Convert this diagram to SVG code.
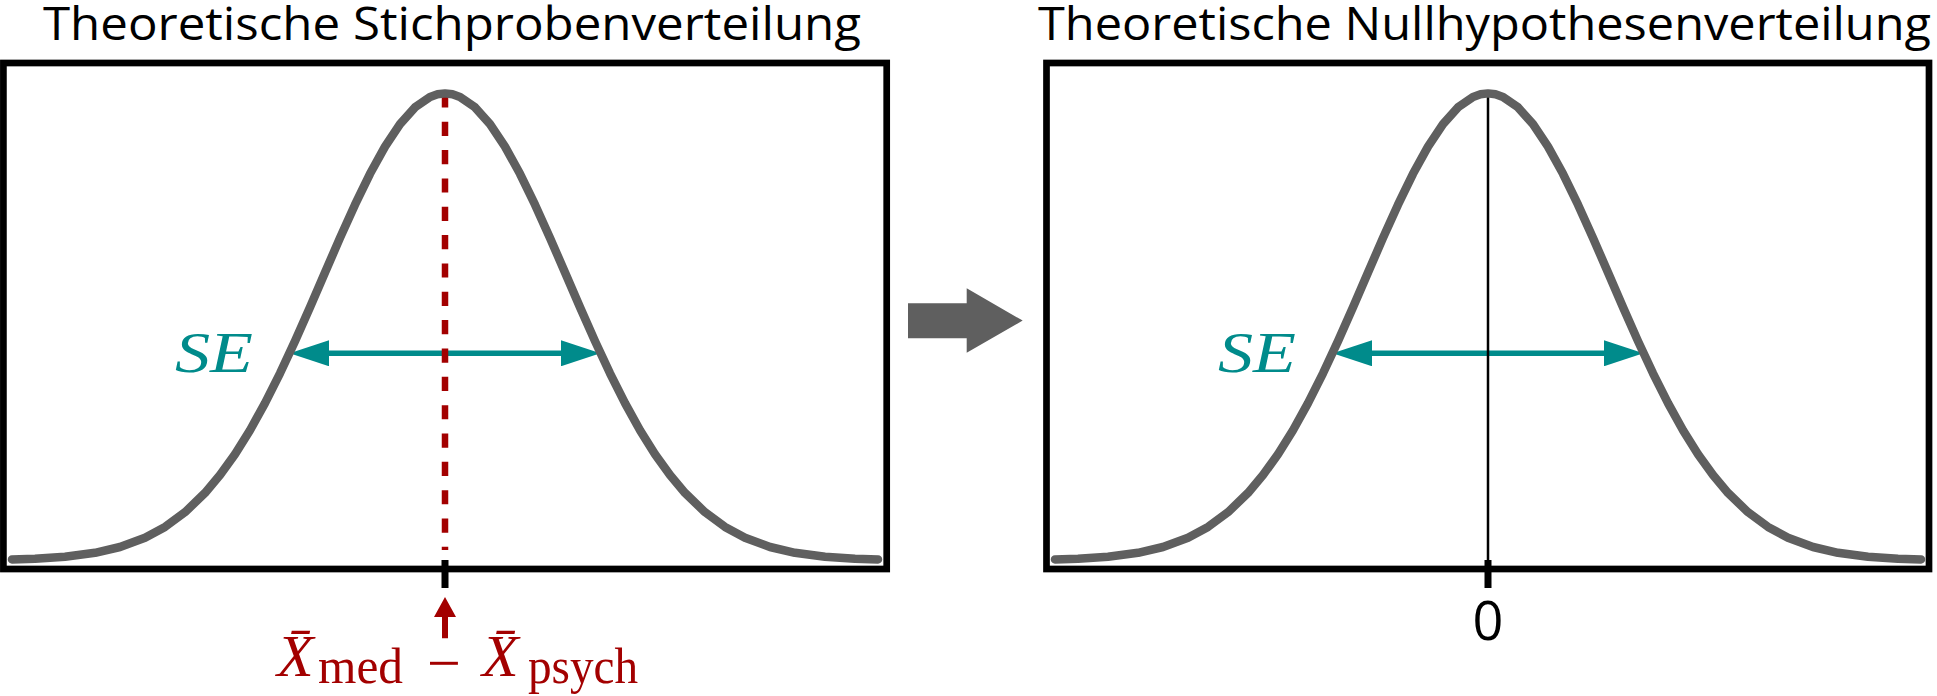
<svg xmlns="http://www.w3.org/2000/svg" xmlns:xlink="http://www.w3.org/1999/xlink" width="1937" height="696" viewBox="0 0 1937 696">
<style>
.title{font-family:"Open Sans","Noto Sans",sans-serif;font-size:46px;fill:#000}
.box{fill:none;stroke:#000;stroke-width:6.7}
.curve{fill:none;stroke:#5f5f5f;stroke-width:8.5;stroke-linecap:round;stroke-linejoin:round}
.se{font-family:"Liberation Serif",serif;font-style:italic;font-size:58px;fill:#008b8b}
.sear{stroke:#008b8b;stroke-width:5.5;fill:none}
.tick{stroke:#000;stroke-width:7}
.red{fill:#a30000}
.lab{font-family:"Liberation Serif",serif;font-size:60px;fill:#a30000}
</style>
<defs>
<marker id="tealhead" markerUnits="userSpaceOnUse" markerWidth="40" markerHeight="26" viewBox="0 0 38 25" refX="28" refY="12.5" orient="auto-start-reverse">
<path d="M0,0 L38,12.5 L0,25 z" fill="#008b8b"/>
</marker>
<polyline id="gauss" class="curve" points="12,559.5 35,558.75 65,556.75 95,552.8 120,547 145,537.7 165,526.9 185,512.2 205,492.9 220,475.1 235,454.2 250,430.2 265,403.1 280,373.3 295,341.1 310,307.2 325,272.5 340,237.9 355,204.7 370,173.8 385,146.6 400,124.1 415,107.3 430,96.9 437.5,94.3 445,93.4 452.5,94.3 460,96.9 475,107.3 490,124.1 505,146.6 520,173.8 535,204.7 550,237.9 565,272.5 580,307.2 595,341.1 610,373.3 625,403.1 640,430.2 655,454.2 670,475.1 685,492.9 705,512.2 725,526.9 745,537.7 770,547 795,552.8 825,556.75 855,558.75 878,559.5"/>
</defs>

<g id="title-left"><text class="title" x="43" y="40" textLength="818" lengthAdjust="spacingAndGlyphs">Theoretische Stichprobenverteilung</text></g>
<g id="title-right"><text class="title" x="1038" y="40" textLength="893" lengthAdjust="spacingAndGlyphs">Theoretische Nullhypothesenverteilung</text></g>

<g id="panel-left">
<rect class="box" x="3.4" y="63" width="883.3" height="506"/>
<line class="sear" x1="300" y1="353.3" x2="590" y2="353.3" marker-start="url(#tealhead)" marker-end="url(#tealhead)"/>
<text class="se" x="175" y="372" textLength="78" lengthAdjust="spacingAndGlyphs">SE</text>
<line x1="445" y1="93.4" x2="445" y2="550" stroke="#a30000" stroke-width="6.5" stroke-dasharray="14.17 14.17"/>
<use xlink:href="#gauss"/>
<line class="tick" x1="445" y1="560" x2="445" y2="588"/>
</g>

<g id="label-left">
<polygon class="red" points="445,597 434,617 442,617 442,638.3 448,638.3 448,617 456,617"/>
<text class="lab"><tspan x="277" y="676" font-style="italic">X̄</tspan><tspan x="318" y="683" font-size="50px" textLength="85" lengthAdjust="spacingAndGlyphs">med</tspan><tspan x="427" y="683">−</tspan><tspan x="482" y="676" font-style="italic">X̄</tspan><tspan x="528" y="683" font-size="50px" textLength="110" lengthAdjust="spacingAndGlyphs">psych</tspan></text>
</g>

<g id="connectors">
<polygon fill="#5f5f5f" points="908,303.3 966.7,303.3 966.7,288.3 1022.7,320.6 966.7,352.7 966.7,338.3 908,338.3"/>
</g>

<g id="panel-right">
<rect class="box" x="1046.5" y="63" width="882.5" height="506"/>
<line class="sear" x1="1343" y1="353.3" x2="1633" y2="353.3" marker-start="url(#tealhead)" marker-end="url(#tealhead)"/>
<text class="se" x="1218" y="372" textLength="78" lengthAdjust="spacingAndGlyphs">SE</text>
<line x1="1488" y1="93.4" x2="1488" y2="569" stroke="#000" stroke-width="2.5"/>
<use xlink:href="#gauss" transform="translate(1043,0)"/>
<line class="tick" x1="1488" y1="560" x2="1488" y2="588"/>
<text x="1488" y="640" text-anchor="middle" font-family="Open Sans, Noto Sans, sans-serif" font-size="54px" fill="#000">0</text>
</g>
</svg>
